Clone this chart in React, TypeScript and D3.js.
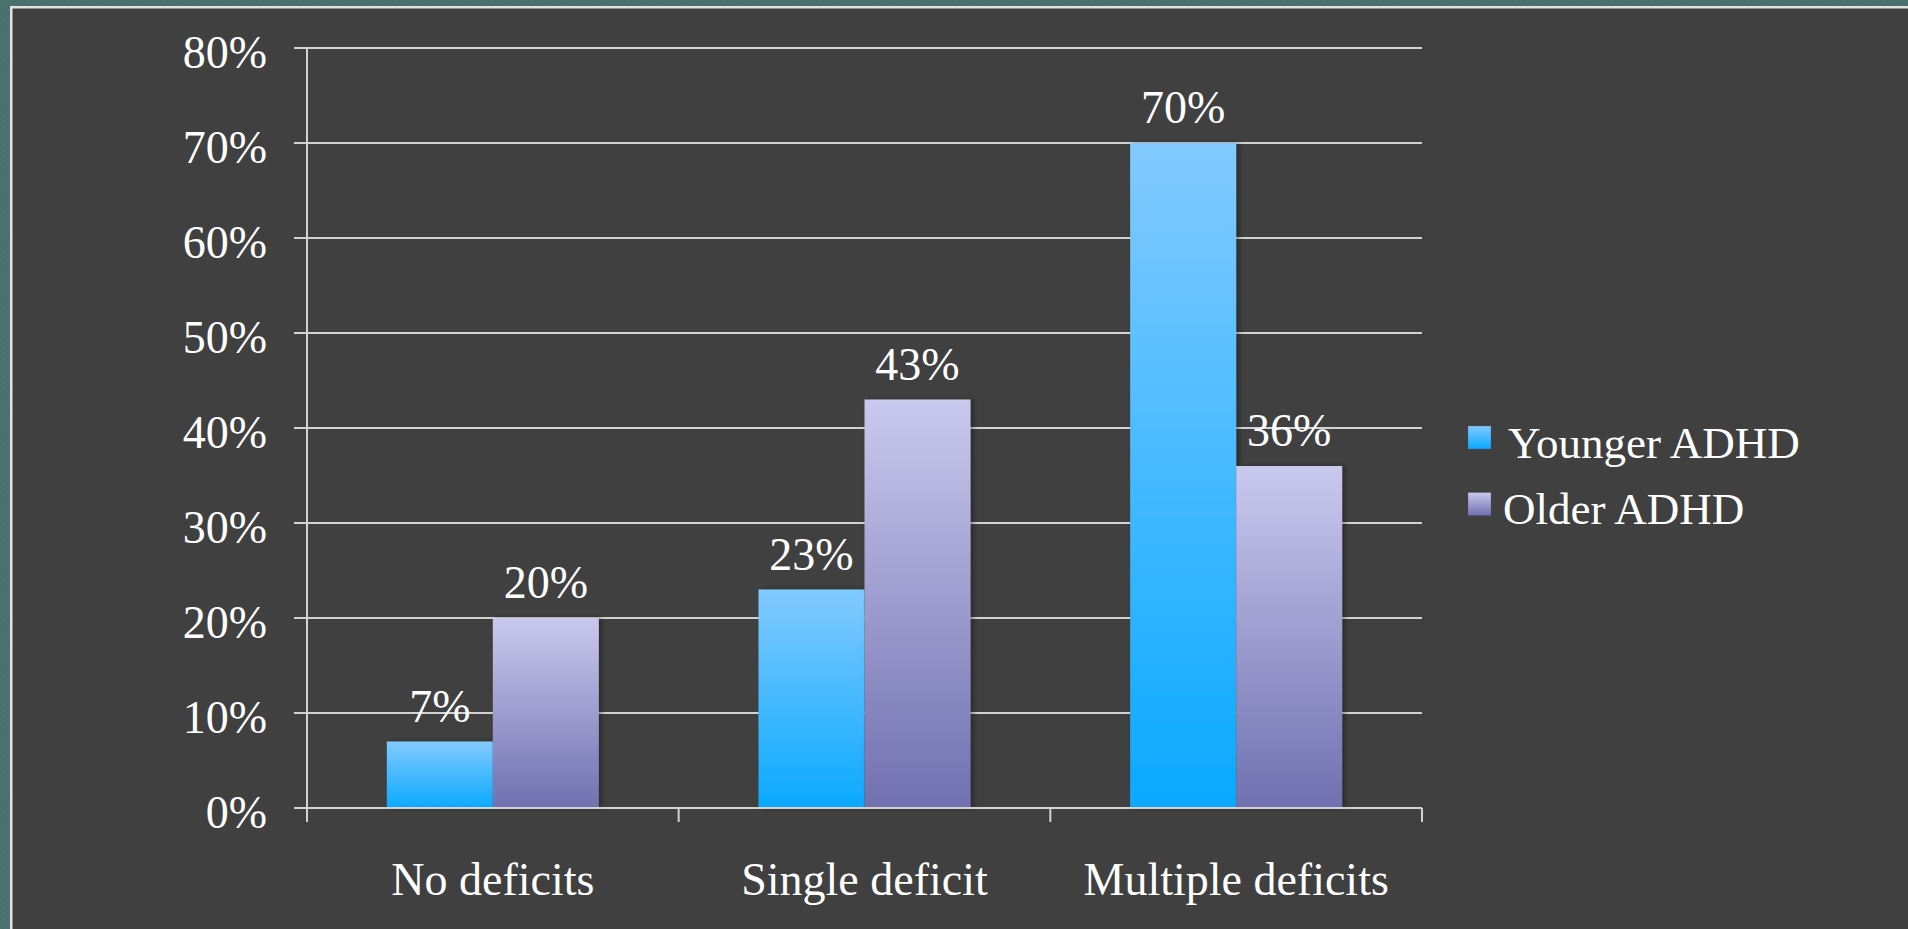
import React from "react";
import * as d3 from "d3";

// Share of children with each deficit profile, by ADHD age group
const categories = ["No deficits", "Single deficit", "Multiple deficits"];
const seriesNames = ["Younger ADHD", "Older ADHD"];
const youngerValues = [0.07, 0.23, 0.7];
const olderValues = [0.2, 0.43, 0.36];
const yTicks = [0, 0.1, 0.2, 0.3, 0.4, 0.5, 0.6, 0.7, 0.8];

const W = 1908;
const H = 929;
const plot = { left: 307, right: 1422, top: 48, bottom: 808 };
const font = "Liberation Serif, Times New Roman, serif";
const lineColor = "#d2d2d2";
const textColor = "#ffffff";

const gradIds = ["gradYounger", "gradOlder"];
const gradStops = [
  ["#82caff", "#0aa9ff"],
  ["#c9c9ee", "#7070b0"],
];

export default function App() {
  const x = d3
    .scaleBand<string>()
    .domain(categories)
    .range([plot.left, plot.right])
    .paddingInner(0)
    .paddingOuter(0);
  const xSub = d3
    .scaleBand<string>()
    .domain(seriesNames)
    .range([0, x.bandwidth()])
    .paddingInner(0)
    .paddingOuter(0.753);
  const y = d3.scaleLinear().domain([0, 0.8]).range([plot.bottom, plot.top]);
  const fmt = d3.format(".0%");

  const seriesValues = [youngerValues, olderValues];
  const tickLen = 13;

  return (
    <svg
      width={W}
      height={H}
      style={{ position: "fixed", left: 0, top: 0, display: "block" }}
    >
      <defs>
        {gradIds.map((id, i) => (
          <linearGradient key={id} id={id} x1="0" y1="0" x2="0" y2="1">
            <stop offset="0" stopColor={gradStops[i][0]} />
            <stop offset="1" stopColor={gradStops[i][1]} />
          </linearGradient>
        ))}
        <filter id="barShadow" x="-20%" y="-5%" width="140%" height="110%">
          <feDropShadow dx="3" dy="0" stdDeviation="2.5" floodColor="#000" floodOpacity="0.35" />
        </filter>
        <pattern id="teal" width="4" height="4" patternUnits="userSpaceOnUse" patternTransform="rotate(45)">
          <rect width="4" height="4" fill="#47706c" />
          <rect width="2" height="4" fill="#4b7470" />
        </pattern>
      </defs>

      {/* slide background and panel */}
      <rect x={0} y={0} width={W} height={H} fill="url(#teal)" />
      <rect x={10} y={6} width={W} height={H} fill="#e2e2e2" />
      <rect x={12.5} y={8.5} width={W} height={H} fill="#404040" />

      {/* gridlines and y ticks */}
      {yTicks.map((t) => (
        <g key={t}>
          <line
            x1={plot.left - tickLen}
            x2={plot.right}
            y1={y(t)}
            y2={y(t)}
            stroke={lineColor}
            strokeWidth={2}
          />
          <text
            x={267}
            y={y(t) + 20}
            textAnchor="end"
            fontFamily={font}
            fontSize={46}
            fill={textColor}
          >
            {fmt(t)}
          </text>
        </g>
      ))}

      {/* bars */}
      {categories.map((c, ci) => (
        <g key={c} transform={`translate(${x(c)},0)`}>
          {seriesNames.map((s, si) => {
            const v = seriesValues[si][ci];
            const by = y(v);
            return (
              <rect
                key={s}
                x={xSub(s)!}
                y={by}
                width={xSub.bandwidth()}
                height={plot.bottom - by}
                fill={`url(#${gradIds[si]})`}
                filter="url(#barShadow)"
              />
            );
          })}
        </g>
      ))}

      {/* x axis line and category dividers */}
      <line
        x1={plot.left - tickLen}
        x2={plot.right}
        y1={plot.bottom}
        y2={plot.bottom}
        stroke={lineColor}
        strokeWidth={2}
      />
      <line x1={plot.left} x2={plot.left} y1={plot.top} y2={plot.bottom + 14} stroke={lineColor} strokeWidth={2} />
      {categories.map((c) => (
        <line
          key={c}
          x1={x(c)! + x.bandwidth()}
          x2={x(c)! + x.bandwidth()}
          y1={plot.bottom}
          y2={plot.bottom + 14}
          stroke={lineColor}
          strokeWidth={2}
        />
      ))}

      {/* value labels */}
      {categories.map((c, ci) =>
        seriesNames.map((s, si) => {
          const v = seriesValues[si][ci];
          return (
            <text
              key={c + s}
              x={x(c)! + xSub(s)! + xSub.bandwidth() / 2}
              y={y(v) - 20}
              textAnchor="middle"
              fontFamily={font}
              fontSize={46}
              fill={textColor}
            >
              {fmt(v)}
            </text>
          );
        })
      )}

      {/* category labels */}
      {categories.map((c) => (
        <text
          key={c}
          x={x(c)! + x.bandwidth() / 2}
          y={895}
          textAnchor="middle"
          fontFamily={font}
          fontSize={46}
          fill={textColor}
        >
          {c}
        </text>
      ))}

      {/* legend */}
      {seriesNames.map((s, i) => (
        <g key={s} transform={`translate(1468, ${426 + i * 66.5})`}>
          <rect width={23} height={23} fill={`url(#${gradIds[i]})`} stroke="#505080" strokeOpacity={0.3} />
          <text
            x={i === 0 ? 40 : 35}
            y={31.5}
            fontFamily={font}
            fontSize={45}
            fill={textColor}
          >
            {s}
          </text>
        </g>
      ))}
    </svg>
  );
}
